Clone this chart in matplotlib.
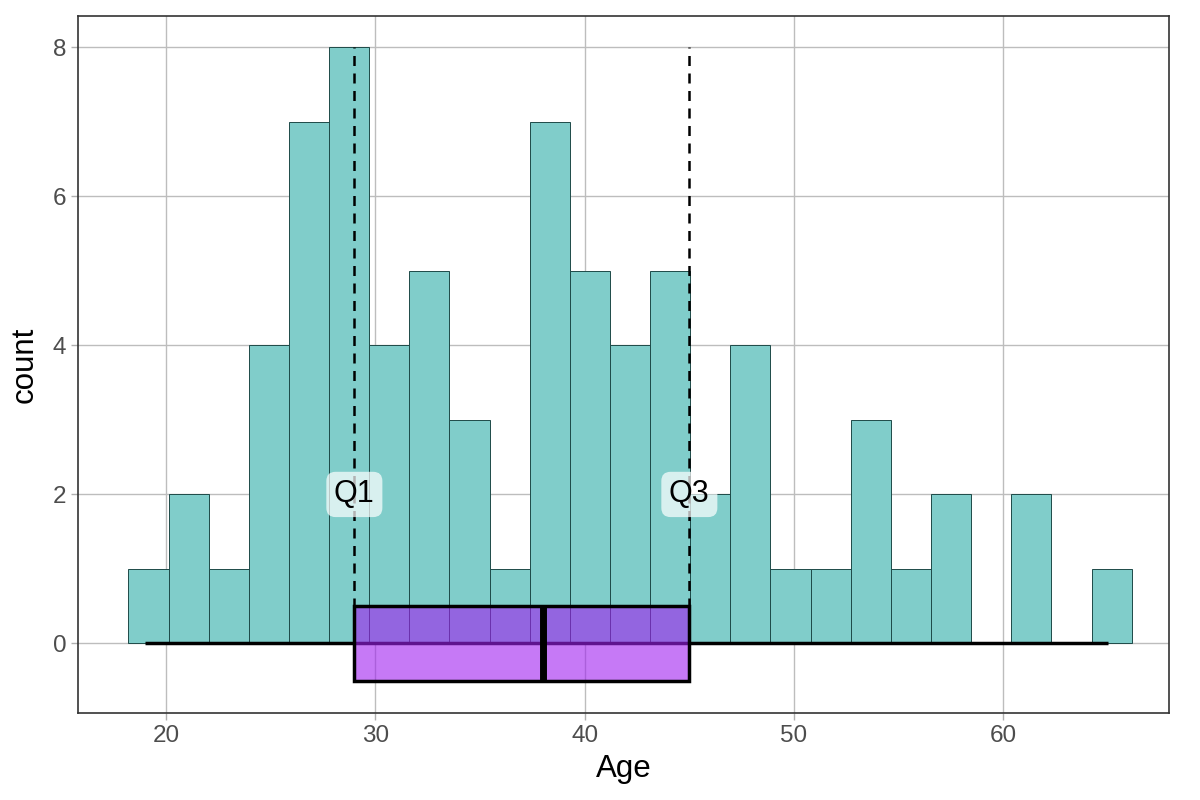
import numpy as np
import matplotlib
matplotlib.use("Agg")
import matplotlib.pyplot as plt
from matplotlib.patches import Rectangle

plt.rcParams['font.family'] = ['Liberation Sans', 'DejaVu Sans']

# Data
counts = [1, 2, 1, 4, 7, 8, 4, 5, 3, 1, 7, 5, 4, 5, 2, 4, 1, 1, 3, 1, 2, 0, 2, 0, 1]
age_min, q1, median, q3, age_max = 19, 29, 38, 45, 65
n_bins = 25
quart_labels = ["Q1", "Q3"]
label_y = 2

binwidth = (age_max - age_min) / (n_bins - 1)
boundary = binwidth / 2
shift = np.floor((age_min - boundary) / binwidth)
origin = boundary + shift * binwidth
lefts = origin + np.arange(n_bins) * binwidth

fig = plt.figure(figsize=(12, 8), dpi=100)
ax = fig.add_axes([0.065, 0.109, 0.909, 0.871])

ax.grid(True, color='#bdbdbd', linewidth=1.0, zorder=0)
ax.set_axisbelow(True)

ax.bar(lefts, counts, width=binwidth, align='edge', color='#80cdca',
       edgecolor='#1d4a48', linewidth=0.7, zorder=2)

# dashed quartile lines
ymax = max(counts)
for xq in (q1, q3):
    ax.plot([xq, xq], [0, ymax], color='black', linestyle=(0, (4, 3)), linewidth=1.8, zorder=3)

# boxplot
ax.plot([age_min, age_max], [0, 0], color='black', linewidth=2.5, zorder=4, solid_capstyle='butt')
ax.add_patch(Rectangle((q1, -0.5), q3 - q1, 1.0, facecolor='#a020f0', alpha=0.6,
                       edgecolor='none', zorder=5))
ax.add_patch(Rectangle((q1, -0.5), q3 - q1, 1.0, facecolor='none',
                       edgecolor='black', linewidth=2.5, zorder=6))
ax.plot([median, median], [-0.5, 0.5], color='black', linewidth=5, zorder=6, solid_capstyle='butt')

for xq, lab in zip((q1, q3), quart_labels):
    ax.text(xq, label_y, lab, ha='center', va='center', fontsize=22, color='black', zorder=7,
            bbox=dict(boxstyle='round,pad=0.25,rounding_size=0.3', facecolor='white',
                      alpha=0.7, edgecolor='none'))

ax.set_xlim(15.8, 67.9)
ax.set_ylim(-0.93, 8.42)
ax.set_xticks([20, 30, 40, 50, 60])
ax.set_yticks([0, 2, 4, 6, 8])
ax.tick_params(axis='both', labelsize=17.5, colors='#4d4d4d', length=5, width=1, color='#b0b0b0')
for lbl in ax.get_xticklabels() + ax.get_yticklabels():
    lbl.set_color('#4d4d4d')
for s in ax.spines.values():
    s.set_color('#333333')
    s.set_linewidth(1.2)

ax.set_xlabel('Age', fontsize=22.5, labelpad=5)
ax.set_ylabel('count', fontsize=22.5, labelpad=9)

fig.savefig('out.png', dpi=100, facecolor='white')
